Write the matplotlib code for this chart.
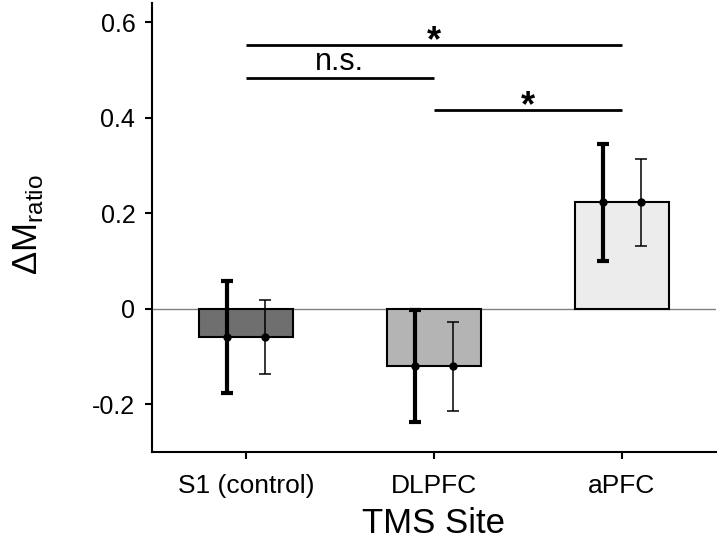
import matplotlib.pyplot as plt

plt.rcParams['font.family'] = ['Liberation Sans', 'DejaVu Sans']
plt.rcParams['mathtext.fontset'] = 'custom'
plt.rcParams['mathtext.rm'] = 'Liberation Sans'

# ---------- data ----------
sites = ["S1 (control)", "DLPFC", "aPFC"]
means = [-0.059, -0.120, 0.223]
err_thick = [0.117, 0.117, 0.122]
err_thin = [0.078, 0.093, 0.091]
bar_colors = ["#6f6f6f", "#b4b4b4", "#ececec"]

# significance brackets: (x_from, x_to, y, label)
sig_lines = [(1, 3, 0.552, "*"), (1, 2, 0.483, "n.s."), (2, 3, 0.416, "*")]

# ---------- plot ----------
fig = plt.figure(figsize=(7.2, 5.39), dpi=100)
ax = fig.add_axes([0.211, 0.161, 0.783, 0.833])

x = [1, 2, 3]
ax.axhline(0, color="#808080", lw=1.0, zorder=1)
ax.bar(x, means, width=0.5, color=bar_colors, edgecolor="black",
       linewidth=1.5, zorder=2)

x_thick = [xi - 0.1 for xi in x]
x_thin = [xi + 0.1 for xi in x]
ax.errorbar(x_thick, means, yerr=err_thick, fmt="o", color="black",
            ms=5, elinewidth=3.0, capsize=4, capthick=3.0, zorder=3)
ax.errorbar(x_thin, means, yerr=err_thin, fmt="o", color="black",
            ms=5, elinewidth=1.1, capsize=4.5, capthick=1.1, zorder=3)

for x0, x1, y, lab in sig_lines:
    ax.plot([x0, x1], [y, y], color="black", lw=2, solid_capstyle="butt")
    xm = (x0 + x1) / 2
    if lab == "*":
        ax.text(xm, y - 0.03, lab, ha="center", va="bottom",
                fontsize=26, fontweight="bold")
    else:
        ax.text(xm, y + 0.034, lab, ha="center", va="center", fontsize=22)

ax.set_xlim(0.5, 3.5)
ax.set_ylim(-0.3, 0.64)
ax.set_xticks(x)
ax.set_xticklabels(sites)
ax.set_yticks([-0.2, 0, 0.2, 0.4, 0.6])
ax.set_yticklabels(["-0.2", "0", "0.2", "0.4", "0.6"])
ax.tick_params(width=1.5, length=5, direction="out")
ax.tick_params(axis="y", labelsize=18, pad=7)
ax.tick_params(axis="x", labelsize=19, pad=11)

ax.spines["top"].set_visible(False)
ax.spines["right"].set_visible(False)
ax.spines["left"].set_linewidth(1.5)
ax.spines["bottom"].set_linewidth(1.5)

ax.set_xlabel("TMS Site", fontsize=25, labelpad=6)
ax.set_ylabel(r"$\Delta$M$_{\rm ratio}$", fontsize=25)
ax.yaxis.set_label_coords(-0.19, 0.508)

fig.savefig("out.png", dpi=100)
